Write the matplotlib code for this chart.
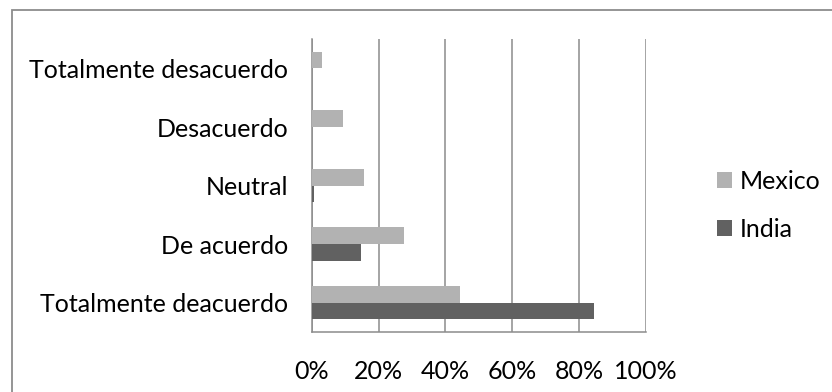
import matplotlib
matplotlib.use("Agg")
import matplotlib.pyplot as plt
import matplotlib.patches as mpatches
import numpy as np

plt.rcParams['font.family'] = ['Lato', 'DejaVu Sans']

# Respuestas por categoría (de abajo hacia arriba)
categorias = ["Totalmente deacuerdo", "De acuerdo", "Neutral",
              "Desacuerdo", "Totalmente desacuerdo"]
mexico = [44.3, 27.6, 15.7, 9.4, 2.9]
india = [84.6, 14.7, 0.5, 0.0, 0.0]
ticks_x = [0, 20, 40, 60, 80, 100]

COLOR_MEXICO = '#b2b2b2'
COLOR_INDIA = '#616161'
COLOR_GRID = '#8c8c8c'
FS = 18

fig = plt.figure(figsize=(8.32, 3.92), dpi=100)
ax = fig.add_axes([0.375, 0.153, 0.401, 0.747])

y = np.arange(len(categorias))
h = 1 / 3.5  # ancho de hueco 150%
ax.barh(y + h / 2, mexico, height=h, color=COLOR_MEXICO,
        edgecolor='none', label='Mexico', zorder=3)
ax.barh(y - h / 2, india, height=h, color=COLOR_INDIA,
        edgecolor='none', label='India', zorder=3)

ax.set_xlim(0, 100)
ax.set_ylim(-0.5, len(categorias) - 0.5)
ax.set_xticks(ticks_x)
ax.set_xticklabels([f"{t}%" for t in ticks_x])
ax.set_yticks(y)
ax.set_yticklabels(categorias)
ax.tick_params(axis='both', length=0, labelsize=FS, colors='black')
ax.tick_params(axis='x', pad=20)
ax.tick_params(axis='y', pad=17)

ax.grid(axis='x', color=COLOR_GRID, linewidth=1.1, zorder=0)
for side in ['top', 'right']:
    ax.spines[side].set_visible(False)
for side in ['left', 'bottom']:
    ax.spines[side].set_color(COLOR_GRID)
    ax.spines[side].set_linewidth(1.1)

ax.legend(loc='center left', bbox_to_anchor=(717 / 832, 0.476),
          bbox_transform=fig.transFigure, frameon=False,
          fontsize=FS, handlelength=0.6, handleheight=0.6,
          handletextpad=0.32, labelspacing=1.0,
          borderpad=0, borderaxespad=0)

# Marco exterior del gráfico
frame = mpatches.Rectangle((11.5 / 832, -0.05), 1.2, 1 - 10 / 392 + 0.05,
                           transform=fig.transFigure, fill=False,
                           edgecolor='#8c8c8c', linewidth=1.3)
fig.add_artist(frame)

fig.savefig('out.png', dpi=100)
